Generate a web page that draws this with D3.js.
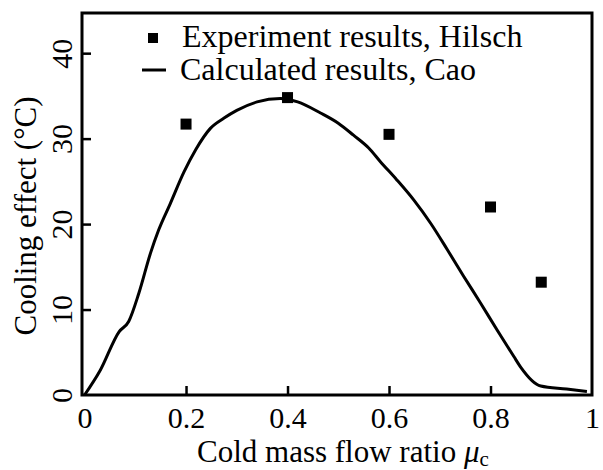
<!DOCTYPE html>
<html>
<head>
<meta charset="utf-8">
<script src="https://cdn.jsdelivr.net/npm/d3@7"></script>
<style>
  body { margin: 0; background: #fff; }
  text { font-family: 'Liberation Serif', 'Times New Roman', serif; fill: #000; }
</style>
</head>
<body>
<script>
// experiment points (Hilsch)
const expX = [0.2, 0.4, 0.6, 0.8, 0.9]
const expY = [31.7, 34.8, 30.5, 22.0, 13.2]

// calculated curve (Cao)
const calcX = [0, 0.031, 0.068, 0.087, 0.107, 0.13, 0.146, 0.169, 0.196, 0.219, 0.248, 0.275, 0.3, 0.34, 0.386, 0.42, 0.465, 0.5, 0.53, 0.56, 0.583, 0.615, 0.649, 0.682, 0.715, 0.747, 0.78, 0.813, 0.846, 0.859, 0.899, 0.95, 0.99]
const calcY = [0, 2.9, 7.4, 8.6, 11.9, 16.6, 19.3, 22.4, 26.1, 28.7, 31.2, 32.4, 33.3, 34.3, 34.7, 34.3, 33.0, 31.8, 30.4, 28.9, 27.3, 25.2, 22.8, 20.1, 17.0, 13.9, 10.8, 7.6, 4.5, 3.3, 1.05, 0.7, 0.4]

const xTicks = [0, 0.2, 0.4, 0.6, 0.8, 1]
const yTicks = [0, 10, 20, 30, 40]
const legendLabels = ['Experiment results, Hilsch', 'Calculated results, Cao']

const width = 603
const height = 470
const margin = { top: 13, right: 11, bottom: 75, left: 82 }

const svg = d3.select('body').append('svg')
  .attr('width', width)
  .attr('height', height)

const xScale = d3.scaleLinear()
  .domain([-0.005, 1])
  .range([margin.left, width - margin.right])
const yScale = d3.scaleLinear()
  .domain([0, 44.7])
  .range([height - margin.bottom, margin.top])

const x0 = margin.left, x1 = width - margin.right
const y0 = height - margin.bottom, y1 = margin.top

// axes, ticks pointing inward
const xAxis = svg.append('g')
  .attr('transform', `translate(0, ${y0})`)
  .call(d3.axisBottom(xScale).tickValues(xTicks).tickSizeInner(-9).tickSizeOuter(0).tickFormat(d => d))
const yAxis = svg.append('g')
  .attr('transform', `translate(${x0}, 0)`)
  .call(d3.axisLeft(yScale).tickValues(yTicks).tickSizeInner(-9).tickSizeOuter(0).tickFormat(d => d))

svg.selectAll('.domain').remove()
svg.selectAll('.tick line').attr('stroke', '#000').attr('stroke-width', 2.5)
xAxis.selectAll('.tick').filter(d => d === 0 || d === 1).select('line').remove()
yAxis.selectAll('.tick').filter(d => d === 0).select('line').remove()

xAxis.selectAll('.tick text')
  .attr('y', 33)
  .attr('dy', 0)
  .style('font-size', '30px')

yAxis.selectAll('.tick text')
  .attr('x', null)
  .attr('dy', null)
  .attr('text-anchor', 'middle')
  .attr('transform', 'translate(-10, 0) rotate(-90)')
  .style('font-size', '30px')

// frame
svg.append('rect')
  .attr('x', x0)
  .attr('y', y1)
  .attr('width', x1 - x0)
  .attr('height', y0 - y1)
  .style('fill', 'none')
  .style('stroke', '#000')
  .style('stroke-width', 3)

// calculated curve
const line = d3.line()
  .x(d => xScale(d[0]))
  .y(d => yScale(d[1]))
  .curve(d3.curveMonotoneX)

svg.append('path')
  .datum(d3.zip(calcX, calcY))
  .style('fill', 'none')
  .style('stroke', '#000')
  .style('stroke-width', 3)
  .attr('d', line)

// experiment squares
const sq = 11
svg.selectAll('.pt')
  .data(d3.zip(expX, expY))
  .enter().append('rect')
  .attr('class', 'pt')
  .attr('x', d => xScale(d[0]) - sq / 2)
  .attr('y', d => yScale(d[1]) - sq / 2)
  .attr('width', sq)
  .attr('height', sq)
  .style('fill', '#000')

// legend
const legend = svg.append('g')
legend.append('rect')
  .attr('x', 148).attr('y', 33).attr('width', 10).attr('height', 10)
  .style('fill', '#000')
legend.append('line')
  .attr('x1', 142).attr('x2', 166).attr('y1', 70).attr('y2', 70)
  .style('stroke', '#000').style('stroke-width', 3)
legend.selectAll('.lg')
  .data(legendLabels)
  .enter().append('text')
  .attr('x', (d, i) => i ? 180 : 182)
  .attr('y', (d, i) => i ? 80 : 47)
  .style('font-size', '32px')
  .text(d => d)

// axis titles
svg.append('text')
  .attr('transform', 'translate(36, 216) rotate(-90)')
  .attr('text-anchor', 'middle')
  .style('font-size', '31px')
  .text('Cooling effect (°C)')

const xt = svg.append('text')
  .attr('x', 197)
  .attr('y', 462)
  .style('font-size', '31px')
xt.append('tspan').text('Cold mass flow ratio ')
xt.append('tspan').style('font-style', 'italic').text('μ')
xt.append('tspan').attr('dy', 4).style('font-size', '21px').text('c')
</script>
</body>
</html>
